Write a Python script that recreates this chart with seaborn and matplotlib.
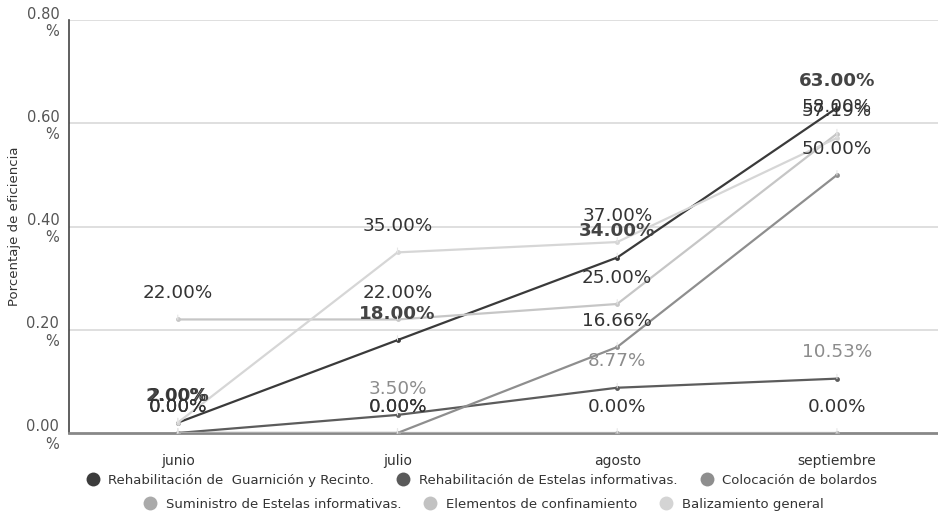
import matplotlib
matplotlib.use("Agg")
import matplotlib.pyplot as plt
from matplotlib.lines import Line2D
import seaborn as sns
import pandas as pd

meses = ["junio", "julio", "agosto", "septiembre"]
series = [
    "Rehabilitación de  Guarnición y Recinto.",
    "Rehabilitación de Estelas informativas.",
    "Colocación de bolardos",
    "Suministro de Estelas informativas.",
    "Elementos de confinamiento",
    "Balizamiento general",
]
guarnicion = [0.02, 0.18, 0.34, 0.63]
estelas_rehab = [0.0, 0.035, 0.0877, 0.1053]
bolardos = [0.0, 0.0, 0.1666, 0.50]
suministro = [0.0, 0.0, 0.0, 0.0]
confinamiento = [0.22, 0.22, 0.25, 0.58]
balizamiento = [0.02, 0.35, 0.37, 0.5719]
valores = [guarnicion, estelas_rehab, bolardos, suministro, confinamiento, balizamiento]

colores = ["#3a3a3a", "#5c5c5c", "#8e8e8e", "#ababab", "#c6c6c6", "#d6d6d6"]
leg_colores = ["#3c3c3c", "#5a5a5a", "#8e8e8e", "#aaaaaa", "#c2c2c2", "#d4d4d4"]

rows = []
for s, vals in zip(series, valores):
    for i, v in enumerate(vals):
        rows.append({"mes": i, "serie": s, "valor": v})
df = pd.DataFrame(rows)

sns.set_style("white")
plt.rcParams["font.family"] = ["DejaVu Sans"]

fig = plt.figure(figsize=(9.38, 5.17), dpi=100)
ax = fig.add_axes([0.0736, 0.1625, 0.9264, 0.7985])

# horizontal grid
for g in [0.2, 0.4, 0.6, 0.8]:
    ax.axhline(g, color="#d9d9d9", lw=1.2, zorder=0)

sns.lineplot(data=df, x="mes", y="valor", hue="serie", hue_order=series,
             palette=colores, marker="o", markersize=3.5, markeredgewidth=0,
             linewidth=1.6, legend=False, ax=ax, zorder=3)

# data labels (bold series drawn first so the others sit on top)
for k, (s, vals) in enumerate(zip(series, valores)):
    if k == 0:
        col, fw = "#444444", "bold"
    elif k == 1:
        col, fw = "#8c8c8c", "normal"
    else:
        col, fw = "#333333", "normal"
    for i, v in enumerate(vals):
        ax.annotate(f"{v*100:.2f}%", xy=(i, v), xytext=(0, 19),
                    textcoords="offset points", ha="center", va="center",
                    fontsize=13.2, color=col, fontweight=fw, zorder=5 + k,
                    arrowprops=dict(arrowstyle="-", color="#e6e6e6", lw=0.8,
                                    shrinkA=7, shrinkB=0))

ax.set_xlim(-0.495, 3.46)
ax.set_ylim(0, 0.8)
ax.set_xticks(range(4))
ax.set_xticklabels(meses, fontsize=10, color="#333333")
ax.set_yticks([0, 0.2, 0.4, 0.6, 0.8])
ax.set_yticklabels(["0.00\n%", "0.20\n%", "0.40\n%", "0.60\n%", "0.80\n%"],
                   fontsize=10.5, color="#555555", multialignment="right")
ax.tick_params(axis="y", length=0, pad=7)
ax.tick_params(axis="x", direction="inout", length=12, width=1, color="#333333", pad=9)
ax.set_xlabel("")
ax.set_ylabel("Porcentaje de eficiencia", fontsize=9.5, color="#333333", labelpad=4)

for sp in ["top", "right"]:
    ax.spines[sp].set_visible(False)
ax.spines["left"].set_color("#444444")
ax.spines["left"].set_linewidth(1.2)
ax.spines["bottom"].set_color("#888888")
ax.spines["bottom"].set_linewidth(2)

def handles(idx):
    return [Line2D([], [], marker="o", linestyle="", markersize=10,
                   markerfacecolor=leg_colores[i], markeredgewidth=0,
                   label=series[i]) for i in idx]

leg1 = fig.legend(handles=handles([0, 1, 2]), loc="center", ncol=3,
                  bbox_to_anchor=(0.51, 0.071), frameon=False, fontsize=9.5,
                  handletextpad=0.2, columnspacing=1.2, labelcolor="#333333")
leg2 = fig.legend(handles=handles([3, 4, 5]), loc="center", ncol=3,
                  bbox_to_anchor=(0.512, 0.024), frameon=False, fontsize=9.5,
                  handletextpad=0.2, columnspacing=1.2, labelcolor="#333333")

fig.savefig("out.png", dpi=100)
